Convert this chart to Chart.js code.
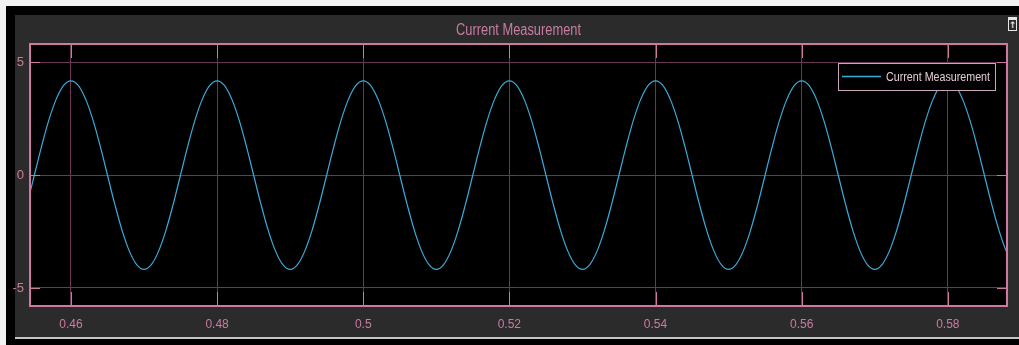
<!DOCTYPE html>
<html>
<head>
<meta charset="utf-8">
<script src="https://cdn.jsdelivr.net/npm/chart.js@4.4.1/dist/chart.umd.min.js"></script>
<style>
  html, body { margin: 0; padding: 0; background: #f2f2f2; }
  #frame { position: absolute; left: 6px; top: 6px; width: 1013px; height: 339px; background: #000; }
  #panel { position: absolute; left: 15px; top: 15px; width: 1004px; height: 322px; background: #2b2b2b; }
  #rule { position: absolute; left: 15px; top: 337px; width: 1004px; height: 2px; background: #c4c4c4; }
  #icon { position: absolute; left: 1008px; top: 17px; width: 7px; height: 10px; border: 1px solid #e6e6e6; border-top-width: 3px;
          color: #e6e6e6; font: bold 9px "DejaVu Sans"; line-height: 10px; text-align: center; }
  #wrap { position: absolute; left: 0; top: 0; width: 1019px; height: 345px; }
</style>
</head>
<body>
<div id="frame"></div>
<div id="panel"></div>
<div id="rule"></div>
<div id="icon">&#8593;</div>
<div id="wrap"><canvas id="scope" width="1019" height="345"></canvas></div>
<script>
const title = "Current Measurement";
const seriesName = "Current Measurement";

const times = [
  0.454, 0.455, 0.456, 0.457, 0.458, 0.459,
  0.460, 0.461, 0.462, 0.463, 0.464, 0.465, 0.466, 0.467, 0.468, 0.469,
  0.470, 0.471, 0.472, 0.473, 0.474, 0.475, 0.476, 0.477, 0.478, 0.479,
  0.480, 0.481, 0.482, 0.483, 0.484, 0.485, 0.486, 0.487, 0.488, 0.489,
  0.490, 0.491, 0.492, 0.493, 0.494, 0.495, 0.496, 0.497, 0.498, 0.499,
  0.500, 0.501, 0.502, 0.503, 0.504, 0.505, 0.506, 0.507, 0.508, 0.509,
  0.510, 0.511, 0.512, 0.513, 0.514, 0.515, 0.516, 0.517, 0.518, 0.519,
  0.520, 0.521, 0.522, 0.523, 0.524, 0.525, 0.526, 0.527, 0.528, 0.529,
  0.530, 0.531, 0.532, 0.533, 0.534, 0.535, 0.536, 0.537, 0.538, 0.539,
  0.540, 0.541, 0.542, 0.543, 0.544, 0.545, 0.546, 0.547, 0.548, 0.549,
  0.550, 0.551, 0.552, 0.553, 0.554, 0.555, 0.556, 0.557, 0.558, 0.559,
  0.560, 0.561, 0.562, 0.563, 0.564, 0.565, 0.566, 0.567, 0.568, 0.569,
  0.570, 0.571, 0.572, 0.573, 0.574, 0.575, 0.576, 0.577, 0.578, 0.579,
  0.580, 0.581, 0.582, 0.583, 0.584, 0.585, 0.586, 0.587, 0.588, 0.589
];

const current = [
  -1.29, 0.00, 1.29, 2.45, 3.37, 3.97,
  4.17, 3.97, 3.37, 2.45, 1.29, 0.00, -1.29, -2.45, -3.37, -3.97,
  -4.18, -3.97, -3.37, -2.45, -1.29, 0.00, 1.29, 2.45, 3.37, 3.97,
  4.17, 3.97, 3.37, 2.45, 1.29, 0.00, -1.29, -2.45, -3.37, -3.97,
  -4.18, -3.97, -3.37, -2.45, -1.29, 0.00, 1.29, 2.45, 3.37, 3.97,
  4.17, 3.97, 3.37, 2.45, 1.29, 0.00, -1.29, -2.45, -3.37, -3.97,
  -4.18, -3.97, -3.37, -2.45, -1.29, 0.00, 1.29, 2.45, 3.37, 3.97,
  4.17, 3.97, 3.37, 2.45, 1.29, 0.00, -1.29, -2.45, -3.37, -3.97,
  -4.18, -3.97, -3.37, -2.45, -1.29, 0.00, 1.29, 2.45, 3.37, 3.97,
  4.17, 3.97, 3.37, 2.45, 1.29, 0.00, -1.29, -2.45, -3.37, -3.97,
  -4.18, -3.97, -3.37, -2.45, -1.29, 0.00, 1.29, 2.45, 3.37, 3.97,
  4.17, 3.97, 3.37, 2.45, 1.29, 0.00, -1.29, -2.45, -3.37, -3.97,
  -4.18, -3.97, -3.37, -2.45, -1.29, 0.00, 1.29, 2.45, 3.37, 3.97,
  4.17, 3.97, 3.37, 2.45, 1.29, 0.00, -1.29, -2.45, -3.37, -3.97
];

const xTicks = [0.46, 0.48, 0.50, 0.52, 0.54, 0.56, 0.58];
const xTickLabels = ["0.46", "0.48", "0.5", "0.52", "0.54", "0.56", "0.58"];
const yTicks = [-5, 0, 5];
const yTickLabels = ["-5", "0", "5"];

const pink = "#cf78a2";
const dimGrid = "#6a3852";
const textPink = "#c97ca1";
const traceColor = "#3aaad9";
const sans = "'Liberation Sans', Arial, sans-serif";

// title, box, inner tick marks and legend in scope style
const scopeFrame = {
  id: "scopeFrame",
  afterDatasetsDraw(chart) {
    const { ctx, chartArea: a, scales } = chart;
    ctx.save();
    ctx.strokeStyle = pink;
    ctx.lineWidth = 1;
    ctx.beginPath();
    xTicks.forEach(v => {
      const px = Math.round(scales.x.getPixelForValue(v)) + 0.5;
      ctx.moveTo(px, a.top); ctx.lineTo(px, a.top + 14);
      ctx.moveTo(px, a.bottom); ctx.lineTo(px, a.bottom - 14);
    });
    yTicks.forEach(v => {
      const py = Math.round(scales.y.getPixelForValue(v)) + 0.5;
      ctx.moveTo(a.left, py); ctx.lineTo(a.left + 10, py);
      ctx.moveTo(a.right, py); ctx.lineTo(a.right - 10, py);
    });
    ctx.stroke();

    ctx.lineWidth = 2;
    ctx.strokeRect(a.left, a.top, a.right - a.left, a.bottom - a.top);

    // title, squeezed like the scope's narrow font
    ctx.fillStyle = textPink;
    ctx.font = "16px " + sans;
    ctx.textAlign = "center";
    ctx.textBaseline = "middle";
    ctx.fillText(title, (a.left + a.right) / 2, 31, 125);

    // legend
    const lx = 838, ly = 63, lw = 157, lh = 27;
    ctx.fillStyle = "#000";
    ctx.fillRect(lx, ly, lw, lh);
    ctx.lineWidth = 1;
    ctx.strokeStyle = "#c9a6b8";
    ctx.strokeRect(lx + 0.5, ly + 0.5, lw, lh);
    ctx.strokeStyle = traceColor;
    ctx.lineWidth = 1.3;
    ctx.beginPath();
    ctx.moveTo(lx + 4, ly + 13.5); ctx.lineTo(lx + 43, ly + 13.5);
    ctx.stroke();
    ctx.fillStyle = "#e2cbd7";
    ctx.font = "13px " + sans;
    ctx.textAlign = "left";
    ctx.fillText(chart.data.datasets[0].label, lx + 48, ly + 14, 104);
    ctx.restore();
  }
};

const plotBg = {
  id: "plotBg",
  beforeDraw(chart) {
    const { ctx, chartArea: a } = chart;
    ctx.save();
    ctx.fillStyle = "#000";
    ctx.fillRect(a.left, a.top, a.right - a.left, a.bottom - a.top);
    ctx.restore();
  }
};

new Chart(document.getElementById("scope"), {
  type: "line",
  data: {
    labels: times,
    datasets: [{
      label: seriesName,
      data: times.map((t, i) => ({ x: t, y: current[i] })),
      borderColor: traceColor,
      borderWidth: 1.2,
      pointRadius: 0,
      tension: 0.35,
      fill: false
    }]
  },
  options: {
    responsive: false,
    animation: false,
    devicePixelRatio: 1,
    layout: { padding: { left: 0, right: 12, top: 44, bottom: 0 } },
    plugins: {
      legend: { display: false },
      tooltip: { enabled: false },
      title: { display: false }
    },
    scales: {
      x: {
        type: "linear",
        min: 0.4544,
        max: 0.5881,
        afterBuildTicks: s => { s.ticks = xTicks.map(v => ({ value: v })); },
        afterFit: s => { s.height = 39; },
        ticks: {
          color: textPink,
          font: { family: sans, size: 12 },
          padding: 11,
          maxRotation: 0,
          callback: v => xTickLabels[xTicks.findIndex(t => Math.abs(t - v) < 1e-6)]
        },
        grid: { color: dimGrid, drawTicks: false },
        border: { display: false }
      },
      y: {
        min: -5.8,
        max: 5.8,
        afterBuildTicks: s => { s.ticks = yTicks.map(v => ({ value: v })); },
        afterFit: s => { s.width = 30; },
        ticks: {
          color: textPink,
          font: { family: sans, size: 13 },
          padding: 6,
          callback: v => yTickLabels[yTicks.indexOf(v)]
        },
        grid: { color: dimGrid, drawTicks: false },
        border: { display: false }
      }
    }
  },
  plugins: [plotBg, scopeFrame]
});
</script>
</body>
</html>
